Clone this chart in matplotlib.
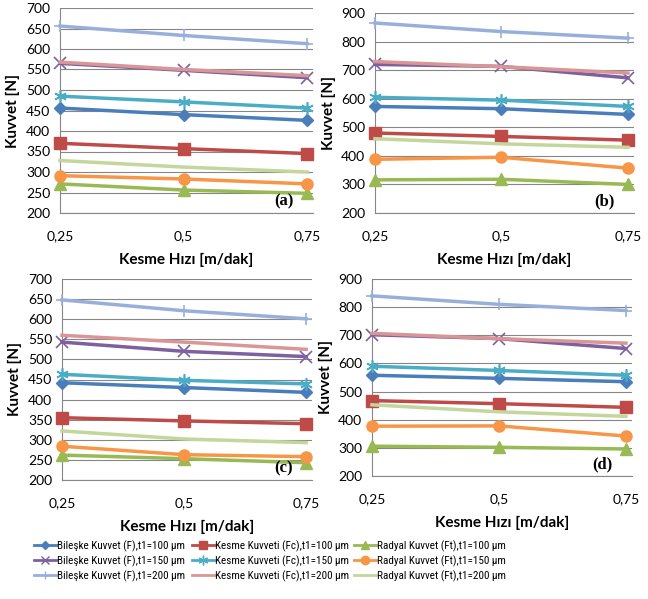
import numpy as np
import matplotlib
matplotlib.use('Agg')
import matplotlib.pyplot as plt
from matplotlib.lines import Line2D

plt.rcParams['font.family'] = ['Lato', 'DejaVu Sans']

# cutting speed [m/dak]
speed = [0.25, 0.5, 0.75]
speed_labels = ['0,25', '0,5', '0,75']

# force values per panel, order: F, Fc, Ft for t1 = 100, 150, 200
a_F100 = [456, 440, 426]
a_F150 = [565, 548, 530]
a_F200 = [656, 633, 613]
a_Fc100 = [370, 357, 345]
a_Fc150 = [485, 471, 456]
a_Fc200 = [568, 550, 535]
a_Ft100 = [271, 256, 248]
a_Ft150 = [291, 283, 271]
a_Ft200 = [328, 312, 300]

b_F100 = [573, 565, 545]
b_F150 = [720, 713, 673]
b_F200 = [865, 835, 812]
b_Fc100 = [480, 468, 455]
b_Fc150 = [605, 595, 573]
b_Fc200 = [730, 712, 690]
b_Ft100 = [316, 318, 300]
b_Ft150 = [388, 395, 357]
b_Ft200 = [460, 442, 430]

c_F100 = [442, 430, 418]
c_F150 = [543, 520, 507]
c_F200 = [648, 621, 601]
c_Fc100 = [355, 347, 340]
c_Fc150 = [463, 448, 439]
c_Fc200 = [560, 543, 525]
c_Ft100 = [262, 253, 243]
c_Ft150 = [284, 263, 258]
c_Ft200 = [322, 302, 293]

d_F100 = [558, 547, 535]
d_F150 = [702, 688, 653]
d_F200 = [840, 810, 788]
d_Fc100 = [468, 457, 444]
d_Fc150 = [590, 575, 558]
d_Fc200 = [707, 688, 672]
d_Ft100 = [306, 302, 296]
d_Ft150 = [377, 378, 342]
d_Ft200 = [453, 428, 412]

series_names = [
    'Bileşke Kuvvet (F),t1=100 µm', 'Bileşke Kuvvet (F),t1=150 µm', 'Bileşke Kuvvet (F),t1=200 µm',
    'Kesme Kuvveti (Fc),t1=100 µm', 'Kesme Kuvveti (Fc),t1=150 µm', 'Kesme Kuvveti (Fc),t1=200 µm',
    'Radyal Kuvvet (Ft),t1=100 µm', 'Radyal Kuvvet (Ft),t1=150 µm', 'Radyal Kuvvet (Ft),t1=200 µm',
]

panels = [
    ('(a)', [a_F100, a_F150, a_F200, a_Fc100, a_Fc150, a_Fc200, a_Ft100, a_Ft150, a_Ft200], (200, 700), 50),
    ('(b)', [b_F100, b_F150, b_F200, b_Fc100, b_Fc150, b_Fc200, b_Ft100, b_Ft150, b_Ft200], (200, 900), 100),
    ('(c)', [c_F100, c_F150, c_F200, c_Fc100, c_Fc150, c_Fc200, c_Ft100, c_Ft150, c_Ft200], (200, 700), 50),
    ('(d)', [d_F100, d_F150, d_F200, d_Fc100, d_Fc150, d_Fc200, d_Ft100, d_Ft150, d_Ft200], (200, 900), 100),
]

# line colour, marker, marker size
styles = [
    ('#4A7EBB', 'D', 6),
    ('#7D60A0', 'x', 8),
    ('#98B0D9', '+', 8),
    ('#BE4B48', 's', 8),
    ('#4BACC6', (6, 2, 0), 9),
    ('#D99694', 'None', 0),
    ('#98B954', '^', 8),
    ('#F79646', 'o', 8),
    ('#C3D69B', 'None', 0),
]

W, H = 648.0, 599.0
boxes = [(60, 313, 8, 213), (375, 634, 13, 213), (62, 312, 279, 480), (372, 632, 279, 476)]

fig = plt.figure(figsize=(6.48, 5.99), dpi=100)

for (tag, data, ylim, step), (l, r, t, b) in zip(panels, boxes):
    ax = fig.add_axes([l / W, 1 - b / H, (r - l) / W, (b - t) / H])
    for vals, (col, mk, ms) in zip(data, styles):
        filled = mk in ('D', 's', '^', 'o')
        ax.plot(speed, vals, color=col, lw=2.5, marker=mk, markersize=ms,
                markerfacecolor=col, markeredgecolor=col,
                markeredgewidth=1.0 if filled else 1.2, clip_on=False, zorder=3)
    ax.set_xlim(0.25, 0.762)
    ax.set_ylim(*ylim)
    ax.set_yticks(np.arange(ylim[0], ylim[1] + 1, step))
    ax.set_xticks(speed)
    ax.set_xticklabels(speed_labels)
    ax.yaxis.grid(True, color='#868686', lw=0.8)
    ax.set_axisbelow(True)
    for s in ('top', 'right'):
        ax.spines[s].set_visible(False)
    for s in ('left', 'bottom'):
        ax.spines[s].set_color('#868686')
        ax.spines[s].set_linewidth(0.8)
    ax.tick_params(length=0, labelsize=10, pad=7)
    ax.tick_params(axis='x', pad=12)
    ax.set_xlabel('Kesme Hızı [m/dak]', fontsize=11, fontweight='bold', labelpad=8)
    ax.set_ylabel('Kuvvet [N]', fontsize=11, fontweight='bold', labelpad=4)
    ax.text(0.885, 0.02, tag, transform=ax.transAxes, fontsize=12, fontweight='bold',
            family='Liberation Serif', ha='center', va='bottom')

handles = []
for (col, mk, ms) in styles:
    handles.append(Line2D([], [], color=col, lw=2, marker=mk, markersize=ms - 2 if ms else 0,
                          markerfacecolor=col, markeredgecolor=col))

# one legend block per force type, like the three columns in the original
col_x = [30, 188, 350]
for i, x0 in enumerate(col_x):
    fig.legend(handles[3 * i:3 * i + 3], series_names[3 * i:3 * i + 3],
               loc='upper left', bbox_to_anchor=(x0 / W, 1 - 536 / H),
               frameon=False, handlelength=1.9, handletextpad=0.15,
               labelspacing=0.3, borderaxespad=0,
               prop={'family': ['Roboto Condensed', 'Lato'], 'size': 8})

fig.savefig('out.png', dpi=100)
